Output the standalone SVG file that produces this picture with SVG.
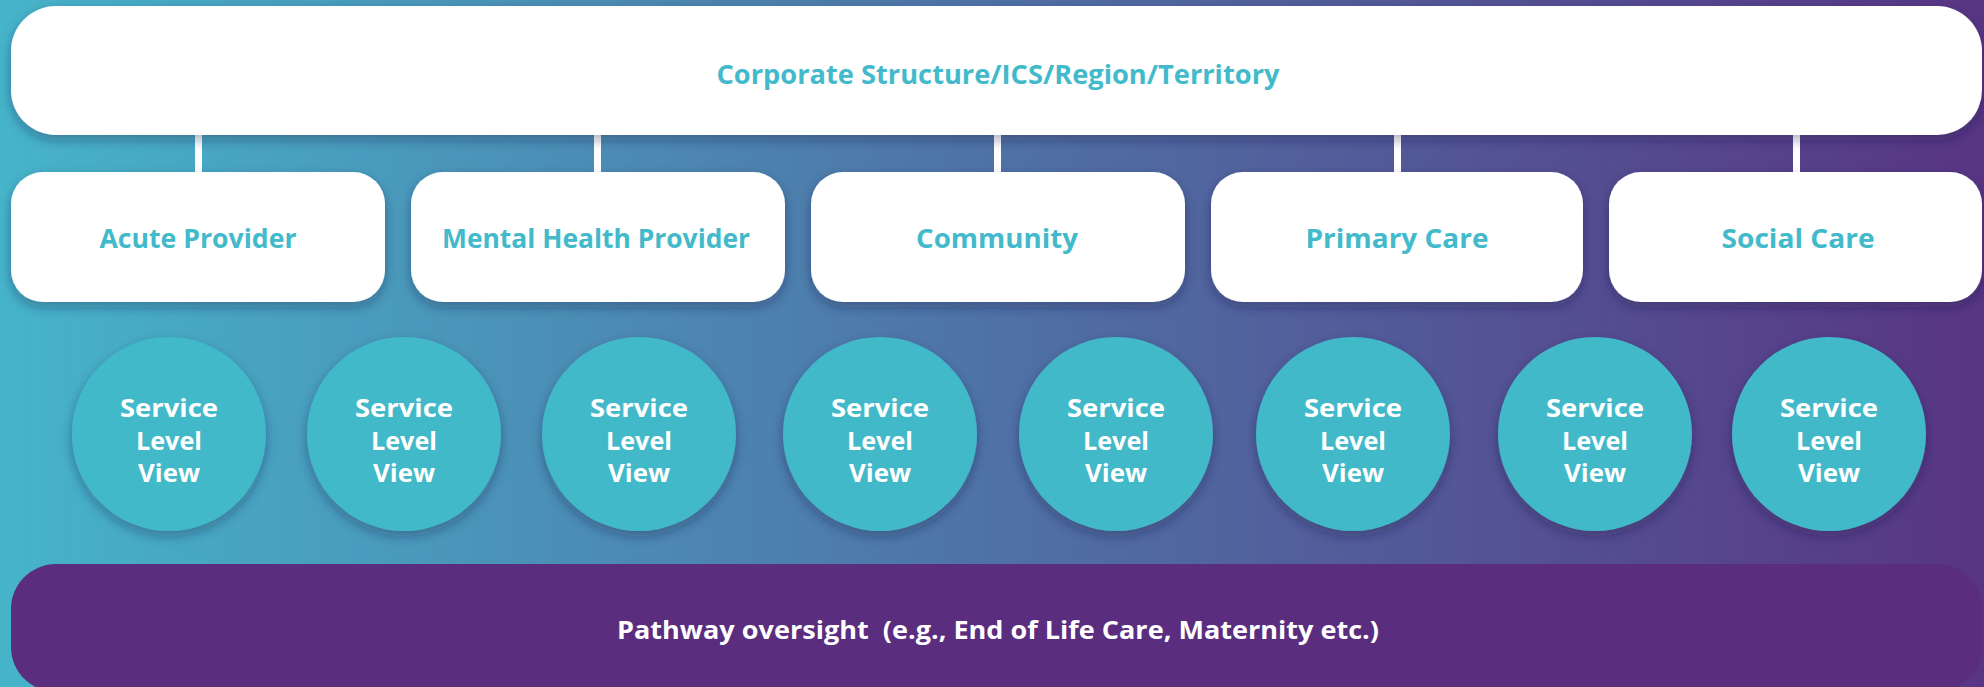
<svg xmlns="http://www.w3.org/2000/svg" width="1984" height="687" viewBox="0 0 1984 687">
<defs>
<linearGradient id="bg" x1="0" y1="0" x2="1" y2="0">
<stop offset="0" stop-color="#46b4ca"/>
<stop offset="0.5" stop-color="#4f72a6"/>
<stop offset="1" stop-color="#583584"/>
</linearGradient>
<filter id="sh" x="-10%" y="-20%" width="120%" height="150%">
<feDropShadow dx="0" dy="5" stdDeviation="6" flood-color="#1a2040" flood-opacity="0.35"/>
</filter>
</defs>
<style>
.box{fill:#ffffff;filter:url(#sh)}
.circ{fill:#42b9c9;filter:url(#sh)}
.bar{fill:#ffffff}
.t1{font-family:"Open Sans","Liberation Sans",sans-serif;font-weight:700;fill:#42bacb;text-anchor:middle}
.t2{font-family:"Open Sans","Liberation Sans",sans-serif;font-weight:700;fill:#ffffff;text-anchor:middle}
</style>
<rect x="0" y="0" width="1984" height="687" fill="url(#bg)"/>
<g id="connectors">
<rect class="bar" x="195" y="128" width="7" height="50"/>
<rect class="bar" x="594" y="128" width="7" height="50"/>
<rect class="bar" x="994" y="128" width="7" height="50"/>
<rect class="bar" x="1394" y="128" width="7" height="50"/>
<rect class="bar" x="1793" y="128" width="7" height="50"/>
</g>
<g id="corporate">
<rect class="box" x="11" y="6" width="1971" height="129" rx="45"/>
<text class="t1" x="998" y="84" font-size="27" textLength="563" lengthAdjust="spacingAndGlyphs">Corporate Structure/ICS/Region/Territory</text>
</g>
<g id="acute">
<rect class="box" x="11" y="172" width="374" height="130" rx="32"/>
<text class="t1" x="198" y="248" font-size="27" textLength="197" lengthAdjust="spacingAndGlyphs">Acute Provider</text>
</g>
<g id="mental">
<rect class="box" x="411" y="172" width="374" height="130" rx="32"/>
<text class="t1" x="596" y="248" font-size="27" textLength="308" lengthAdjust="spacingAndGlyphs">Mental Health Provider</text>
</g>
<g id="community">
<rect class="box" x="811" y="172" width="374" height="130" rx="32"/>
<text class="t1" x="997" y="248" font-size="27" textLength="162" lengthAdjust="spacingAndGlyphs">Community</text>
</g>
<g id="primary">
<rect class="box" x="1211" y="172" width="372" height="130" rx="32"/>
<text class="t1" x="1397" y="248" font-size="27" textLength="183" lengthAdjust="spacingAndGlyphs">Primary Care</text>
</g>
<g id="social">
<rect class="box" x="1609" y="172" width="373" height="130" rx="32"/>
<text class="t1" x="1798" y="248" font-size="27" textLength="153" lengthAdjust="spacingAndGlyphs">Social Care</text>
</g>
<g id="slv1">
<circle class="circ" cx="169" cy="434" r="97"/>
<text class="t2" font-size="25"><tspan x="169" y="417" textLength="98" lengthAdjust="spacingAndGlyphs">Service</tspan><tspan x="169" y="450" textLength="66" lengthAdjust="spacingAndGlyphs">Level</tspan><tspan x="169" y="482" textLength="62" lengthAdjust="spacingAndGlyphs">View</tspan></text>
</g>
<g id="slv2">
<circle class="circ" cx="404" cy="434" r="97"/>
<text class="t2" font-size="25"><tspan x="404" y="417" textLength="98" lengthAdjust="spacingAndGlyphs">Service</tspan><tspan x="404" y="450" textLength="66" lengthAdjust="spacingAndGlyphs">Level</tspan><tspan x="404" y="482" textLength="62" lengthAdjust="spacingAndGlyphs">View</tspan></text>
</g>
<g id="slv3">
<circle class="circ" cx="639" cy="434" r="97"/>
<text class="t2" font-size="25"><tspan x="639" y="417" textLength="98" lengthAdjust="spacingAndGlyphs">Service</tspan><tspan x="639" y="450" textLength="66" lengthAdjust="spacingAndGlyphs">Level</tspan><tspan x="639" y="482" textLength="62" lengthAdjust="spacingAndGlyphs">View</tspan></text>
</g>
<g id="slv4">
<circle class="circ" cx="880" cy="434" r="97"/>
<text class="t2" font-size="25"><tspan x="880" y="417" textLength="98" lengthAdjust="spacingAndGlyphs">Service</tspan><tspan x="880" y="450" textLength="66" lengthAdjust="spacingAndGlyphs">Level</tspan><tspan x="880" y="482" textLength="62" lengthAdjust="spacingAndGlyphs">View</tspan></text>
</g>
<g id="slv5">
<circle class="circ" cx="1116" cy="434" r="97"/>
<text class="t2" font-size="25"><tspan x="1116" y="417" textLength="98" lengthAdjust="spacingAndGlyphs">Service</tspan><tspan x="1116" y="450" textLength="66" lengthAdjust="spacingAndGlyphs">Level</tspan><tspan x="1116" y="482" textLength="62" lengthAdjust="spacingAndGlyphs">View</tspan></text>
</g>
<g id="slv6">
<circle class="circ" cx="1353" cy="434" r="97"/>
<text class="t2" font-size="25"><tspan x="1353" y="417" textLength="98" lengthAdjust="spacingAndGlyphs">Service</tspan><tspan x="1353" y="450" textLength="66" lengthAdjust="spacingAndGlyphs">Level</tspan><tspan x="1353" y="482" textLength="62" lengthAdjust="spacingAndGlyphs">View</tspan></text>
</g>
<g id="slv7">
<circle class="circ" cx="1595" cy="434" r="97"/>
<text class="t2" font-size="25"><tspan x="1595" y="417" textLength="98" lengthAdjust="spacingAndGlyphs">Service</tspan><tspan x="1595" y="450" textLength="66" lengthAdjust="spacingAndGlyphs">Level</tspan><tspan x="1595" y="482" textLength="62" lengthAdjust="spacingAndGlyphs">View</tspan></text>
</g>
<g id="slv8">
<circle class="circ" cx="1829" cy="434" r="97"/>
<text class="t2" font-size="25"><tspan x="1829" y="417" textLength="98" lengthAdjust="spacingAndGlyphs">Service</tspan><tspan x="1829" y="450" textLength="66" lengthAdjust="spacingAndGlyphs">Level</tspan><tspan x="1829" y="482" textLength="62" lengthAdjust="spacingAndGlyphs">View</tspan></text>
</g>
<g id="pathway">
<rect x="11" y="564" width="1971" height="128" rx="45" fill="#5a2d7f"/>
<text class="t2" x="998" y="639" font-size="25" textLength="762" lengthAdjust="spacingAndGlyphs" xml:space="preserve">Pathway oversight  (e.g., End of Life Care, Maternity etc.)</text>
</g>
</svg>
